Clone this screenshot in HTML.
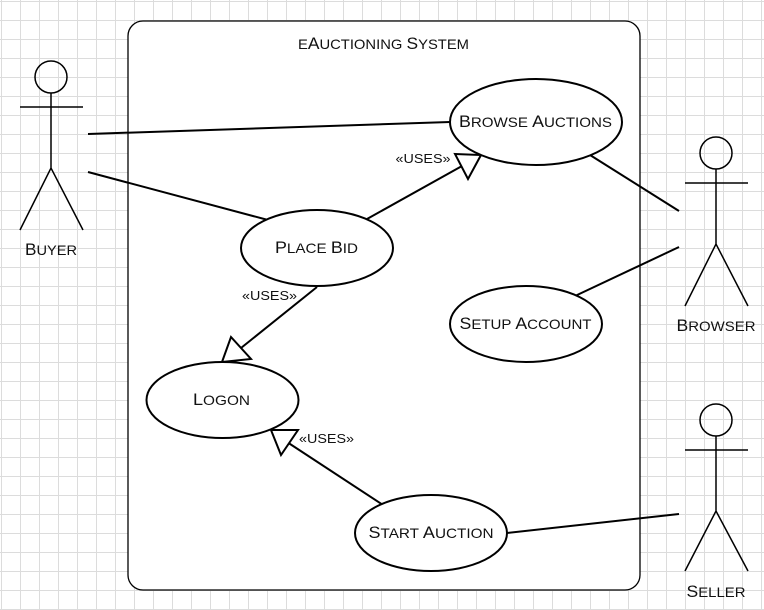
<!DOCTYPE html>
<html><head><meta charset="utf-8"><style>
html,body{margin:0;padding:0;background:#fff;width:764px;height:610px;overflow:hidden}
svg{display:block}
text{font-family:"Liberation Sans",sans-serif;fill:#111;text-anchor:middle;text-transform:uppercase;font-size:14px}
.c{font-size:16.5px}
.u{font-size:12.5px}
</style></head><body>
<svg width="764" height="610" viewBox="0 0 764 610" xmlns="http://www.w3.org/2000/svg">
<defs><pattern id="g" x="1" y="1" width="19" height="19" patternUnits="userSpaceOnUse"><path d="M.5 0V19M0 .5H19" stroke="#dcdcdc" stroke-width="1" fill="none"/></pattern></defs>
<rect width="764" height="610" fill="url(#g)"/>
<rect x="128" y="21" width="512" height="569" rx="15" ry="15" fill="#fff" stroke="#000" stroke-width="1.3"/>
<g fill="none" stroke="#000" stroke-width="2">
<line x1="88" y1="134" x2="450" y2="122"/>
<line x1="88" y1="172" x2="268" y2="220"/>
<line x1="590" y1="155" x2="679" y2="211"/>
<line x1="575" y1="296" x2="679" y2="247"/>
<line x1="507" y1="533" x2="679" y2="514"/>
<line x1="367" y1="219" x2="462" y2="166"/>
<line x1="317" y1="287" x2="241" y2="348"/>
<line x1="383" y1="505" x2="287" y2="442"/>
</g>
<g fill="#fff" stroke="#000" stroke-width="2">
<polygon points="455,154 481,155 468,179"/>
<polygon points="222,362 231,337 251,359"/>
<polygon points="271,430 298,430 281,455"/>
<ellipse cx="536" cy="122" rx="86" ry="43"/>
<ellipse cx="317" cy="248" rx="76" ry="38"/>
<ellipse cx="526" cy="324" rx="76" ry="38"/>
<ellipse cx="222.500" cy="400" rx="76" ry="38"/>
<ellipse cx="431" cy="533" rx="76" ry="38"/>
</g>
<g fill="none" stroke="#000" stroke-width="1.5">
<circle cx="51" cy="77" r="16"/><path d="M51 93V168M20 107H83M20 230L51 168L83 230"/>
<circle cx="716" cy="153" r="16"/><path d="M716 169V244M685 183H748M685 306L716 244L748 306"/>
<circle cx="716" cy="420" r="16"/><path d="M716 436V511M685 450H748M685 571L716 511L748 571"/>
</g>
<text x="383.500" y="49" textLength="171" lengthAdjust="spacingAndGlyphs">e<tspan class="c">A</tspan>uctioning <tspan class="c">S</tspan>ystem</text>
<text x="535.500" y="127" textLength="153" lengthAdjust="spacingAndGlyphs"><tspan class="c">B</tspan>rowse <tspan class="c">A</tspan>uctions</text>
<text x="316.500" y="253" textLength="83" lengthAdjust="spacingAndGlyphs"><tspan class="c">P</tspan>lace <tspan class="c">B</tspan>id</text>
<text x="525.500" y="329" textLength="132" lengthAdjust="spacingAndGlyphs"><tspan class="c">S</tspan>etup <tspan class="c">A</tspan>ccount</text>
<text x="221.500" y="405" textLength="57" lengthAdjust="spacingAndGlyphs"><tspan class="c">L</tspan>ogon</text>
<text x="431" y="538" textLength="125" lengthAdjust="spacingAndGlyphs"><tspan class="c">S</tspan>tart <tspan class="c">A</tspan>uction</text>
<text x="51" y="255" textLength="52" lengthAdjust="spacingAndGlyphs"><tspan class="c">B</tspan>uyer</text>
<text x="716" y="331" textLength="79" lengthAdjust="spacingAndGlyphs"><tspan class="c">B</tspan>rowser</text>
<text x="716" y="597" textLength="59" lengthAdjust="spacingAndGlyphs"><tspan class="c">S</tspan>eller</text>
<text class="u" x="423" y="163" textLength="55" lengthAdjust="spacingAndGlyphs">«uses»</text>
<text class="u" x="269.500" y="300" textLength="55" lengthAdjust="spacingAndGlyphs">«uses»</text>
<text class="u" x="326.500" y="443" textLength="55" lengthAdjust="spacingAndGlyphs">«uses»</text>
</svg>
</body></html>
